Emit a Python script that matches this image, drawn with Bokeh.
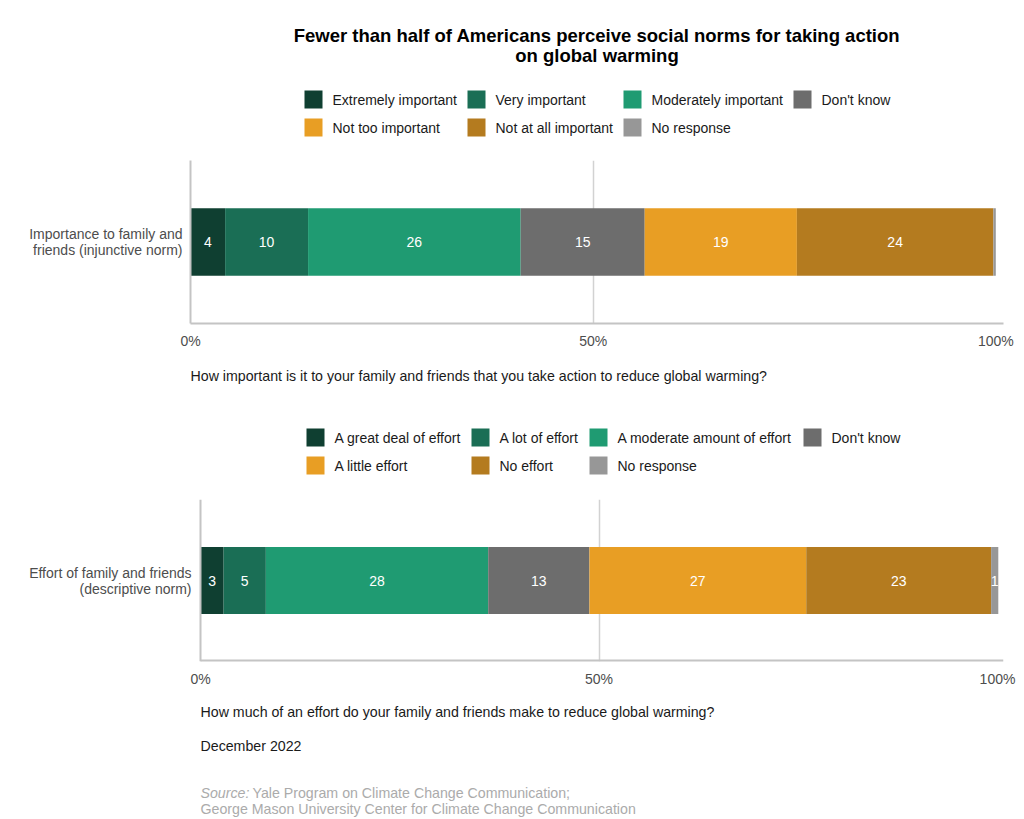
from bokeh.plotting import figure
from bokeh.layouts import column
from bokeh.models import Range1d, FixedTicker, ColumnDataSource, FactorRange, Span
from bokeh.core.properties import value
from bokeh.embed import file_html
from bokeh.resources import INLINE

FONT = "Liberation Sans"

# ---------------- data ----------------
title_lines = ["Fewer than half of Americans perceive social norms for taking action",
               "on global warming"]

q1_category = "Importance to family and\nfriends (injunctive norm)"
q1_labels = ["Extremely important", "Very important", "Moderately important", "Don't know",
             "Not too important", "Not at all important", "No response"]
q1_values = [4.3, 10.3, 26.4, 15.4, 18.9, 24.4, 0.3]
q1_question = "How important is it to your family and friends that you take action to reduce global warming?"

q2_category = "Effort of family and friends\n(descriptive norm)"
q2_labels = ["A great deal of effort", "A lot of effort", "A moderate amount of effort", "Don't know",
             "A little effort", "No effort", "No response"]
q2_values = [2.9, 5.3, 27.9, 12.7, 27.2, 23.2, 0.9]
q2_question = "How much of an effort do your family and friends make to reduce global warming?"

colors = ["#0f3f31", "#1a6e55", "#1f9b72", "#6d6d6d", "#e89e24", "#b47b1f", "#979797"]
x_ticks = [0, 50, 100]
x_tick_labels = ["0%", "50%", "100%"]
date_text = "December 2022"
source_label = "Source:"
source_lines = ["Yale Program on Climate Change Communication;",
                "George Mason University Center for Climate Change Communication"]

# ---------------- helpers ----------------
W = 1024
BL = 190          # common left border (all frames are aligned in a column)
BR = 21           # common right border
TXT = "#1a1a1a"
AX = "#4d4d4d"
AXLINE = "#c4c4c4"


def panel(h):
    p = figure(width=W, height=h, x_range=Range1d(BL, W - BR), y_range=Range1d(h, 0),
               output_backend="svg", toolbar_location=None, min_border=0,
               min_border_left=BL, min_border_right=BR,
               x_axis_location=None, y_axis_location=None)
    p.grid.visible = False
    p.outline_line_color = None
    return p


def add_text(p, xs, ys, texts, size="14px", color=TXT, align="left", style="normal"):
    p.text(x=xs, y=ys, text=texts, text_font=value(FONT), text_font_size=size,
           text_color=color, text_align=align, text_baseline="middle", text_font_style=style)


def draw_legend(p, labels, cols_x, rows_y):
    xs, ys, tx = [], [], []
    for i, lab in enumerate(labels):
        r, c = divmod(i, 4)
        xs.append(cols_x[c] + 9)
        ys.append(rows_y[r])
        tx.append(cols_x[c] + 28)
    p.rect(x=xs, y=ys, width=18, height=18, fill_color=colors, line_color=None)
    add_text(p, tx, ys, labels)


def chart(values, category, h, top, bottom, px_per_unit, zero_px, label_standoff):
    frame_w = W - BL - BR
    start = -(zero_px - BL) / px_per_unit
    end = start + frame_w / px_per_unit
    p = figure(width=W, height=h, y_range=FactorRange(factors=[category], range_padding=0),
               x_range=Range1d(start, end), output_backend="svg", toolbar_location=None,
               min_border_left=BL, min_border_right=BR, min_border_top=top,
               min_border_bottom=bottom)
    lefts, rights, mids, labs = [], [], [], []
    acc = 0.0
    for v in values:
        lefts.append(acc)
        rights.append(acc + v)
        mids.append(acc + v / 2)
        labs.append(str(round(v)) if round(v) >= 1 else "")
        acc += v
    src = ColumnDataSource(dict(y=[category] * len(values), left=lefts, right=rights,
                                mid=mids, label=labs, color=colors))
    p.hbar(y="y", left="left", right="right", height=0.414, fill_color="color",
           line_color=None, source=src)
    p.text(x="mid", y="y", text="label", source=src, text_color="white",
           text_align="center", text_baseline="middle", text_font=value(FONT),
           text_font_size="14px")
    p.outline_line_color = None
    p.ygrid.visible = False
    p.xgrid.ticker = FixedTicker(ticks=[50])
    p.xgrid.grid_line_color = "#d2d2d2"
    p.xgrid.grid_line_width = 1.5
    xa = p.xaxis[0]
    xa.ticker = FixedTicker(ticks=x_ticks)
    xa.major_label_overrides = dict(zip(x_ticks, x_tick_labels))
    xa.major_tick_line_color = None
    xa.minor_tick_line_color = None
    xa.major_label_text_font = FONT
    xa.major_label_text_font_size = "14px"
    xa.major_label_text_color = AX
    xa.major_label_standoff = 3
    ya = p.yaxis[0]
    ya.major_tick_line_color = None
    ya.minor_tick_line_color = None
    ya.major_label_text_font = FONT
    ya.major_label_text_font_size = "14px"
    ya.major_label_text_color = AX
    ya.major_label_text_line_height = 1.0
    ya.major_label_standoff = label_standoff
    if start < 0:
        # axis lines start at 0 (inside the frame), drawn as styled lines
        xa.axis_line_color = None
        ya.axis_line_color = None
        p.add_layout(Span(location=0, dimension="height", line_color=AXLINE, line_width=2))
        p.segment(x0=[0], x1=[end], y0=[0], y1=[0], line_color=AXLINE, line_width=4)
    else:
        xa.axis_line_color = AXLINE
        xa.axis_line_width = 2
        ya.axis_line_color = AXLINE
        ya.axis_line_width = 2
    return p


# ---------------- header ----------------
head = panel(150)
cx = 596.5
add_text(head, [cx, cx], [35, 55], title_lines, size="18.5px", color="#000000",
         align="center", style="bold")
draw_legend(head, q1_labels, [304, 467, 623, 793], [99, 127])

c1 = chart(q1_values, q1_category, 205, 10, 32, 8.053, 190, 2)

mid = panel(135)
add_text(mid, [190], [20], [q1_question], size="14.2px")
draw_legend(mid, q2_labels, [306, 471, 589, 803], [82, 110])

c2 = chart(q2_values, q2_category, 200, 9, 29, 7.97, 200, -7)

foot = panel(127)
add_text(foot, [200, 200], [21, 55], [q2_question, date_text], size="14.2px")
add_text(foot, [200], [102], [source_label], color="#ababab", style="italic", size="14.2px")
add_text(foot, [252], [102], [source_lines[0]], color="#ababab", size="14.2px")
add_text(foot, [200], [118], [source_lines[1]], color="#ababab", size="14.2px")

layout = column(head, c1, mid, c2, foot, spacing=0)

open("out.html", "w").write(file_html(layout, INLINE))
